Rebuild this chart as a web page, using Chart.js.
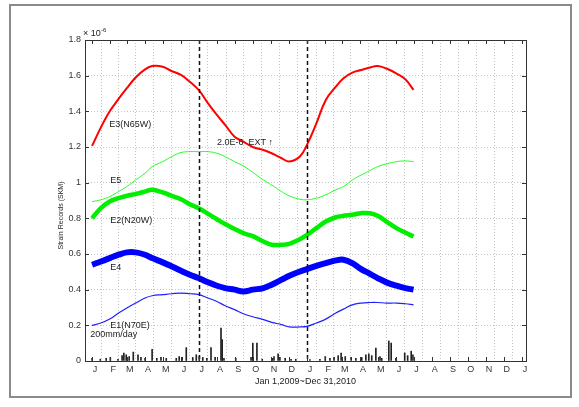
<!DOCTYPE html>
<html>
  <head>
    <script src="https://cdn.jsdelivr.net/npm/chart.js@4.4.1/dist/chart.umd.min.js"></script>
    <style>
      body { margin: 0; background: #fff; }
      canvas { display: block; }
    </style>
  </head>
  <body>
    <canvas id="strainChart" width="579" height="407"></canvas>
    <script>
      // days counted from Jan 1, 2009
      var days = [0, 15, 30, 45, 59, 74, 90, 102, 120, 135, 151, 166, 181, 197, 212, 226, 242, 257, 273,
                  291, 305, 322, 335, 353, 365, 381, 397, 414, 427, 442, 457, 472, 485, 500, 517, 532, 546];

      // strain, x 10^-6
      var e3 = [1.206, 1.31, 1.40, 1.47, 1.53, 1.59, 1.635, 1.654, 1.65, 1.626, 1.604, 1.566, 1.52, 1.445, 1.38, 1.324, 1.258, 1.23, 1.20,
                1.183, 1.165, 1.137, 1.119, 1.147, 1.212, 1.333, 1.464, 1.538, 1.585, 1.617, 1.632, 1.646, 1.654, 1.64, 1.612, 1.58, 1.52];
      var e5 = [0.894, 0.904, 0.922, 0.95, 0.978, 1.015, 1.053, 1.09, 1.118, 1.146, 1.169, 1.174, 1.174, 1.174, 1.165, 1.146, 1.118, 1.094, 1.058,
                1.015, 0.987, 0.95, 0.926, 0.907, 0.904, 0.913, 0.932, 0.96, 0.978, 1.015, 1.043, 1.068, 1.09, 1.105, 1.118, 1.122, 1.118];
      var e2 = [0.801, 0.857, 0.894, 0.913, 0.926, 0.937, 0.95, 0.96, 0.945, 0.926, 0.907, 0.879, 0.857, 0.825, 0.795, 0.768, 0.74, 0.717, 0.70,
                0.67, 0.652, 0.652, 0.657, 0.683, 0.707, 0.745, 0.782, 0.806, 0.814, 0.82, 0.829, 0.829, 0.814, 0.782, 0.745, 0.72, 0.698];
      var e4 = [0.54, 0.558, 0.577, 0.596, 0.609, 0.609, 0.596, 0.577, 0.553, 0.531, 0.506, 0.484, 0.465, 0.441, 0.422, 0.409, 0.40, 0.39, 0.40,
                0.409, 0.428, 0.456, 0.478, 0.502, 0.515, 0.534, 0.549, 0.564, 0.568, 0.549, 0.515, 0.489, 0.465, 0.441, 0.422, 0.409, 0.40];
      var e1 = [0.20, 0.213, 0.235, 0.269, 0.297, 0.325, 0.353, 0.366, 0.372, 0.377, 0.381, 0.377, 0.372, 0.353, 0.334, 0.31, 0.288, 0.265, 0.248,
                0.232, 0.217, 0.204, 0.191, 0.191, 0.194, 0.213, 0.235, 0.269, 0.291, 0.315, 0.325, 0.328, 0.328, 0.325, 0.325, 0.321, 0.315];

      // daily rainfall, mm/day (200 mm/day drawn as 0.2 on the strain axis)
      var rainDays = [0, 14, 24, 31, 44, 51, 54, 58, 63, 70, 78, 83, 90, 102, 110, 117, 126, 143, 148, 153, 160, 171, 177, 182, 188,
                      195, 202, 209, 219, 221, 224, 244, 270, 273, 280, 289, 306, 309, 316, 319, 328, 338, 346, 370, 387, 396, 404,
                      411, 418, 423, 430, 440, 448, 458, 465, 470, 475, 482, 489, 492, 504, 508, 516, 531, 536, 542, 545];
      var rainMm = [15, 10, 15, 20, 10, 30, 45, 35, 25, 50, 35, 20, 15, 65, 15, 20, 15, 15, 25, 20, 75, 20, 35, 25, 20,
                    15, 75, 20, 185, 120, 15, 15, 20, 100, 100, 10, 15, 25, 40, 20, 15, 10, 10, 8, 10, 25, 15,
                    20, 30, 45, 25, 20, 15, 20, 35, 40, 30, 72, 25, 15, 112, 100, 15, 45, 30, 55, 35];

      var monthLetters = ['J', 'F', 'M', 'A', 'M', 'J', 'J', 'A', 'S', 'O', 'N', 'D',
                          'J', 'F', 'M', 'A', 'M', 'J', 'J', 'A', 'S', 'O', 'N', 'D', 'J'];
      var markerDays = [181, 365];

      var seriesLabels = [
        { text: 'E3(N65W)', day: 29, val: 1.324 },
        { text: 'E5', day: 31, val: 1.01 },
        { text: 'E2(N20W)', day: 31, val: 0.79 },
        { text: 'E4', day: 31, val: 0.523 },
        { text: 'E1(N70E)', day: 31, val: 0.198 },
        { text: '200mm/day', day: -3, val: 0.148 },
        { text: '2.0E-6  EXT \u2191', day: 212, val: 1.225 }
      ];

      var monthStarts = [];
      var t0 = Date.UTC(2009, 0, 1);
      for (var m = 0; m <= 24; m++) {
        monthStarts.push(Math.round((Date.UTC(2009, m, 1) - t0) / 86400000));
      }

      function pts(vals) {
        return days.map(function (d, i) { return { x: d, y: vals[i] }; });
      }

      var font = 'Liberation Sans, Arial, sans-serif';

      var decorations = {
        id: 'decorations',
        afterDatasetsDraw: function (chart) {
          var ctx = chart.ctx, a = chart.chartArea;
          var xs = chart.scales.x, ys = chart.scales.y;
          ctx.save();

          // dashed marker lines
          ctx.strokeStyle = '#111';
          ctx.lineWidth = 1.5;
          ctx.setLineDash([4, 3]);
          markerDays.forEach(function (d) {
            var px = Math.round(xs.getPixelForValue(d)) + 0.5;
            ctx.beginPath();
            ctx.moveTo(px, a.top);
            ctx.lineTo(px, a.bottom);
            ctx.stroke();
          });
          ctx.setLineDash([]);

          // box and inward ticks
          ctx.strokeStyle = '#333';
          ctx.lineWidth = 1;
          ctx.strokeRect(a.left + 0.5, a.top + 0.5, a.right - a.left, a.bottom - a.top);
          ctx.beginPath();
          xs.ticks.forEach(function (t) {
            var px = Math.round(xs.getPixelForValue(t.value)) + 0.5;
            ctx.moveTo(px, a.bottom); ctx.lineTo(px, a.bottom - 4);
            ctx.moveTo(px, a.top); ctx.lineTo(px, a.top + 4);
          });
          ys.ticks.forEach(function (t) {
            var py = Math.round(ys.getPixelForValue(t.value)) + 0.5;
            ctx.moveTo(a.left, py); ctx.lineTo(a.left + 4, py);
            ctx.moveTo(a.right, py); ctx.lineTo(a.right - 4, py);
          });
          ctx.stroke();

          // labels inside the plot
          ctx.fillStyle = '#222';
          ctx.font = '9px ' + font;
          ctx.textAlign = 'left';
          ctx.textBaseline = 'middle';
          seriesLabels.forEach(function (l) {
            ctx.fillText(l.text, xs.getPixelForValue(l.day), ys.getPixelForValue(l.val));
          });

          // exponent above y axis
          ctx.textBaseline = 'alphabetic';
          ctx.fillText('\u00d7 10', a.left - 2, a.top - 4);
          ctx.font = '6px ' + font;
          ctx.fillText('-6', a.left + 16, a.top - 8);

          // y axis title
          ctx.font = '7px ' + font;
          ctx.textAlign = 'center';
          ctx.textBaseline = 'middle';
          ctx.translate(61, (a.top + a.bottom) / 2 + 15);
          ctx.rotate(-Math.PI / 2);
          ctx.fillText('Strain Records (SKM)', 0, 0);
          ctx.restore();

          // outer frame
          ctx.save();
          ctx.strokeStyle = '#8a8a8a';
          ctx.lineWidth = 2;
          ctx.strokeRect(10, 5, 561, 392);
          ctx.restore();
        }
      };

      var ctx = document.getElementById('strainChart').getContext('2d');
      var chart = new Chart(ctx, {
        type: 'line',
        data: {
          datasets: [
            { label: 'E3(N65W)', data: pts(e3), borderColor: '#ff0000', borderWidth: 2 },
            { label: 'E5', data: pts(e5), borderColor: '#22ff22', borderWidth: 1 },
            { label: 'E2(N20W)', data: pts(e2), borderColor: '#00ee00', borderWidth: 4.5 },
            { label: 'E4', data: pts(e4), borderColor: '#0000ff', borderWidth: 6 },
            { label: 'E1(N70E)', data: pts(e1), borderColor: '#2020ff', borderWidth: 1.2 },
            {
              type: 'bar',
              label: 'rain',
              data: rainDays.map(function (d, i) { return { x: d, y: rainMm[i] / 1000 }; }),
              backgroundColor: '#222',
              barThickness: 1,
              grouped: false
            }
          ]
        },
        options: {
          responsive: false,
          animation: false,
          layout: { padding: { top: 40, right: 53, bottom: 20, left: 0 } },
          elements: {
            line: { tension: 0.4, fill: false },
            point: { radius: 0 }
          },
          plugins: {
            legend: { display: false },
            tooltip: { enabled: false }
          },
          scales: {
            x: {
              type: 'linear',
              min: -12,
              max: 737,
              offset: false,
              afterBuildTicks: function (s) {
                s.ticks = monthStarts.map(function (v) { return { value: v }; });
              },
              afterFit: function (s) { s.height = 26; },
              ticks: {
                autoSkip: false,
                maxRotation: 0,
                padding: 3,
                labelOffset: 3,
                color: '#333',
                font: { family: font, size: 9 },
                callback: function (v, i) { return monthLetters[i]; }
              },
              grid: { color: '#c4c4c4', drawTicks: false },
              border: { display: false, dash: [1, 2] },
              title: {
                display: true,
                text: 'Jan 1,2009~Dec 31,2010',
                color: '#222',
                font: { family: font, size: 9 },
                padding: { top: 4, bottom: 0 }
              }
            },
            y: {
              min: 0,
              max: 1.8,
              afterFit: function (s) { s.width = 85; },
              ticks: {
                stepSize: 0.2,
                padding: 4,
                color: '#333',
                font: { family: font, size: 9 },
                callback: function (v) { return String(Math.round(v * 10) / 10); }
              },
              grid: { color: '#c4c4c4', drawTicks: false },
              border: { display: false, dash: [1, 2] }
            }
          }
        },
        plugins: [decorations]
      });
    </script>
  </body>
</html>
